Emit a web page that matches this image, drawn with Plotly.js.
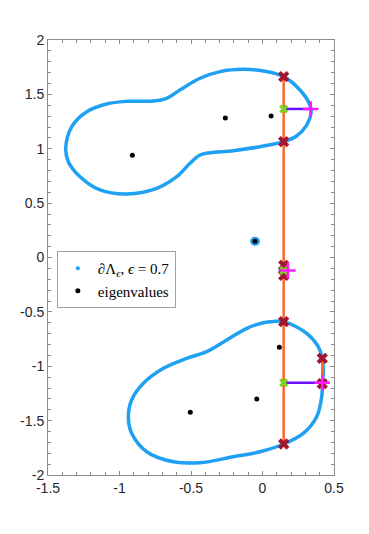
<!DOCTYPE html>
<html>
<head>
<meta charset="utf-8">
<script src="https://cdn.plot.ly/plotly-3.0.1.min.js"></script>
<style>html,body{margin:0;padding:0;background:#fff;}#chart{width:369px;height:534px;}</style>
</head>
<body>
<div id="chart"></div>
<script>
// Pseudospectrum boundary, upper component
const upperX = [-1.376,-1.334,-1.229,-1.090,-0.950,-0.763,-0.670,-0.577,-0.437,-0.297,-0.134,0.006,0.148,0.262,0.332,0.340,0.309,0.239,0.148,-0.017,-0.204,-0.367,-0.437,-0.507,-0.600,-0.740,-0.950,-1.136,-1.276,-1.358,-1.376];
const upperY = [1.004,1.203,1.341,1.412,1.436,1.439,1.464,1.540,1.648,1.709,1.730,1.715,1.663,1.540,1.402,1.330,1.218,1.117,1.065,1.019,0.982,0.964,0.943,0.866,0.743,0.636,0.584,0.621,0.743,0.881,1.004];
// Lower component
const lowerX = [0.006,0.076,0.148,0.309,0.390,0.418,0.425,0.420,0.414,0.379,0.285,0.148,-0.017,-0.204,-0.437,-0.624,-0.810,-0.915,-0.938,-0.915,-0.833,-0.693,-0.530,-0.390,-0.250,-0.110,0.006];
const lowerY = [-0.600,-0.588,-0.590,-0.697,-0.820,-0.927,-1.034,-1.152,-1.280,-1.464,-1.617,-1.715,-1.786,-1.832,-1.887,-1.878,-1.786,-1.617,-1.464,-1.310,-1.157,-1.019,-0.927,-0.866,-0.759,-0.651,-0.600];
// Small components
const island1X = [-0.030,-0.036,-0.052,-0.068,-0.074,-0.068,-0.052,-0.036,-0.030];
const island1Y = [0.149,0.167,0.174,0.167,0.149,0.131,0.124,0.131,0.149];
const island2X = [0.160,0.155,0.142,0.129,0.124,0.129,0.142,0.155,0.160];
const island2Y = [-0.118,-0.095,-0.085,-0.095,-0.118,-0.141,-0.151,-0.141,-0.118];
// Eigenvalues
const eigX = [-0.910,-0.260,0.060,-0.052,0.140,0.118,-0.040,-0.505];
const eigY = [0.940,1.283,1.301,0.149,-0.120,-0.826,-1.301,-1.424];
// Criss-cross: vertical search lines
const vertX = [0.148,0.148,null,0.418,0.418];
const vertY = [1.663,-1.715,null,-0.927,-1.160];
// Horizontal search segments
const horzX = [0.148,0.337,null,0.148,0.178,null,0.148,0.418];
const horzY = [1.366,1.366,null,-0.120,-0.120,null,-1.152,-1.152];
// Intersections (red crosses)
const crossX = [0.148,0.148,0.148,0.148,0.148,0.148,0.418,0.418];
const crossY = [1.663,1.065,-0.072,-0.165,-0.590,-1.715,-0.927,-1.160];
// Midpoints (green)
const midX = [0.148,0.148,0.148];
const midY = [1.366,-0.120,-1.152];
// Rightmost points (magenta)
const rightX = [0.337,0.178,0.418];
const rightY = [1.366,-0.120,-1.152];
// Tick labels
const xTicks = [-1.5,-1,-0.5,0,0.5];
const xTickText = ["-1.5","-1","-0.5","0","0.5"];
const yTicks = [2,1.5,1,0.5,0,-0.5,-1,-1.5,-2];
const yTickText = ["2","1.5","1","0.5","0","-0.5","-1","-1.5","-2"];

const blue = '#1ea1f2';
const curveStyle = {color: blue, width: 3.5, shape: 'spline', smoothing: 1};
const traces = [
  {x: upperX, y: upperY, mode: 'lines', line: curveStyle, showlegend: false, hoverinfo: 'skip'},
  {x: lowerX, y: lowerY, mode: 'lines', line: curveStyle, showlegend: false, hoverinfo: 'skip'},
  {x: island1X, y: island1Y, mode: 'lines', line: curveStyle, showlegend: false, hoverinfo: 'skip'},
  {x: island2X, y: island2Y, mode: 'lines', line: curveStyle, showlegend: false, hoverinfo: 'skip'},
  {x: [null], y: [null], mode: 'markers', marker: {color: blue, size: 4}, name: '∂Λ<sub><i>ϵ</i></sub>, <i>ϵ</i> = 0.7', legendrank: 1},
  {x: eigX, y: eigY, mode: 'markers', marker: {color: '#000', size: 5}, name: 'eigenvalues', legendrank: 2},
  {x: vertX, y: vertY, mode: 'lines', line: {color: '#f8692c', width: 2.5}, showlegend: false, hoverinfo: 'skip'},
  {x: horzX, y: horzY, mode: 'lines', line: {color: '#6a10ff', width: 2.5}, showlegend: false, hoverinfo: 'skip'},
  {x: crossX, y: crossY, mode: 'markers', marker: {symbol: 'x', size: 10, color: '#a3172e'}, showlegend: false},
  {x: midX, y: midY, mode: 'markers', marker: {symbol: 'x', size: 8, color: '#7ed321'}, showlegend: false},
  {x: rightX, y: rightY, mode: 'markers', marker: {symbol: 'cross-thin', size: 11, line: {color: '#ff1aff', width: 2.5}}, showlegend: false}
];

const axisCommon = {
  showline: true, linecolor: '#8c8c8c', linewidth: 1, mirror: 'ticks',
  ticks: 'inside', ticklen: 4, tickcolor: '#8c8c8c', tickwidth: 1,
  showgrid: false, zeroline: false,
  tickfont: {family: 'Liberation Sans, Arial, sans-serif', size: 14, color: '#262626'},
  minor: {dtick: 0.1, ticks: 'inside', ticklen: 3, tickcolor: '#8c8c8c', showgrid: false}
};

const layout = {
  width: 369, height: 534,
  margin: {l: 48, r: 35, t: 40, b: 59},
  paper_bgcolor: '#fff', plot_bgcolor: '#fff',
  xaxis: Object.assign({}, axisCommon, {range: [-1.5, 0.5], tickmode: 'array', tickvals: xTicks, ticktext: xTickText}),
  yaxis: Object.assign({}, axisCommon, {range: [-2, 2], tickmode: 'array', tickvals: yTicks, ticktext: yTickText}),
  legend: {x: 0.031, y: 0.515, xanchor: 'left', yanchor: 'top', bgcolor: '#fff', bordercolor: '#a0a0a0', borderwidth: 1,
           font: {family: 'Liberation Serif, DejaVu Serif, serif', size: 15, color: '#000'}, itemwidth: 30, tracegroupgap: 0},
  showlegend: true
};

Plotly.newPlot('chart', traces, layout, {staticPlot: true, displayModeBar: false});
</script>
</body>
</html>
